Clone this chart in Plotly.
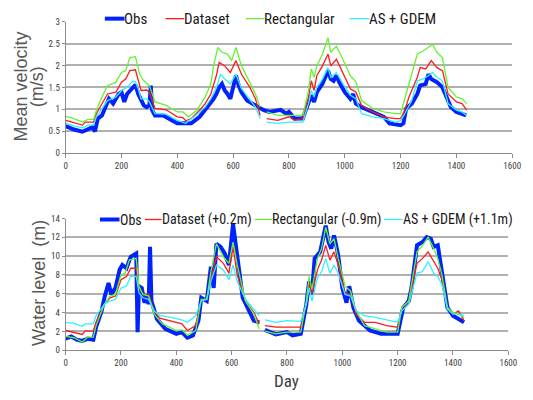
import plotly.graph_objects as go

# ---------------- Mean velocity (m/s) ----------------
vel_obs_day = [0,30,60,80,95,105,115,130,150,155,170,190,200,210,220,240,250,260,270,280,
               290,300,305,310,320,350,380,400,420,450,480,500,520,530,540,550,560,570,580,590,
               600,610,620,630,650,670,690,710,730,750,770,790,800,820,850,860,870,880,890,900,
               920,935,940,950,960,970,980,1000,1020,1030,1040,1060,1100,1140,1160,1200,1210,1220,1240,1260,
               1270,1290,1300,1310,1330,1350,1360,1380,1400,1420,1435]
vel_obs = [0.62,0.54,0.49,0.54,0.59,0.50,0.79,0.86,1.17,1.24,1.13,1.35,1.39,1.17,1.35,1.47,1.56,1.35,1.20,1.09,
           1.05,1.09,1.54,0.98,0.86,0.86,0.75,0.68,0.68,0.68,0.83,0.98,1.13,1.24,1.35,1.50,1.58,1.43,1.35,1.24,
           1.50,1.77,1.54,1.39,1.20,1.13,1.05,0.98,0.94,0.96,0.99,0.90,0.94,0.79,0.79,0.98,1.13,1.32,1.17,1.39,
           1.58,1.77,1.88,1.69,1.65,1.77,1.62,1.39,1.24,1.35,1.13,1.05,0.94,0.83,0.68,0.64,0.68,1.02,1.13,1.35,
           1.54,1.58,1.80,1.69,1.62,1.50,1.35,1.05,0.94,0.90,0.86]

vel_dataset_day = [0,30,60,70,100,110,130,150,180,200,215,230,250,260,270,290,300,320,360,400,
                   420,430,450,480,500,520,540,550,570,590,610,630,660,680,697,708,
                   720,760,800,820,850,870,880,890,900,920,940,950,970,990,1020,1040,1060,1100,1140,1180,
                   1200,1215,1230,1260,1270,1290,1310,1330,1350,1370,1400,1420,1437]
vel_dataset = [0.75,0.69,0.64,0.71,0.71,0.90,1.13,1.35,1.39,1.62,1.69,1.88,1.90,1.69,1.43,1.44,1.39,1.02,0.99,0.83,
               0.81,0.74,0.79,0.98,1.13,1.35,1.77,2.07,1.99,1.84,2.11,1.80,1.50,1.24,0.86,None,
               0.79,0.75,0.83,0.75,0.79,1.28,1.65,1.43,1.77,1.99,2.26,1.99,2.14,1.88,1.47,1.39,1.09,0.94,0.83,0.79,
               0.79,0.98,1.28,1.73,1.95,1.92,2.11,1.95,1.88,1.35,1.17,1.13,0.98]

vel_rect_day = [0,30,60,80,100,110,130,150,180,200,215,230,250,265,280,300,320,360,400,420,
                440,470,500,520,530,545,560,580,595,610,630,660,680,697,708,
                720,760,800,850,870,880,890,900,920,940,950,970,990,1020,1040,1060,1100,1140,1180,1200,
                1215,1230,1260,1280,1300,1315,1330,1350,1370,1400,1420,1437]
vel_rect = [0.84,0.79,0.71,0.77,0.77,0.98,1.28,1.54,1.62,1.84,1.88,2.18,2.20,1.80,1.65,1.54,1.17,1.09,0.94,0.94,
            0.83,0.98,1.28,1.58,1.99,2.41,2.30,2.26,2.11,2.41,1.99,1.62,1.35,1.05,None,
            0.94,0.86,0.86,0.86,1.43,1.92,1.73,1.99,2.26,2.63,2.30,2.44,2.18,1.77,1.62,1.20,1.02,0.94,0.90,0.90,
            1.24,1.58,2.26,2.33,2.41,2.48,2.30,2.18,1.50,1.28,1.24,1.13]

vel_asg_day = [0,30,60,80,100,110,150,180,200,220,240,250,260,270,290,300,320,360,400,430,
               460,500,520,540,555,570,590,610,630,660,680,697,708,
               720,760,800,850,870,880,890,900,920,940,950,970,990,1020,1040,1060,1100,1140,1180,1200,
               1215,1240,1260,1280,1300,1315,1330,1350,1370,1400,1420,1437]
vel_asg = [0.68,0.62,0.58,0.64,0.64,0.83,1.20,1.28,1.43,1.50,1.64,1.63,1.47,1.24,1.24,1.17,0.90,0.89,0.75,0.68,
           0.83,1.05,1.24,1.50,1.80,1.69,1.58,1.80,1.47,1.20,1.05,0.79,None,
           0.71,0.68,0.71,0.71,1.13,1.43,1.28,1.50,1.69,1.95,1.73,1.84,1.62,1.32,1.24,0.90,0.83,0.79,0.71,0.74,
           0.90,1.20,1.65,1.69,1.77,1.84,1.73,1.65,1.13,0.98,0.94,0.86]

# ---------------- Water level (m) ----------------
wl_obs_day = [0,20,40,60,80,100,110,130,140,155,165,180,195,205,220,235,255,260,265,275,
              285,295,300,305,310,330,360,400,420,440,460,480,490,510,525,535,545,560,575,590,
              605,620,640,660,680,700,710,
              720,760,800,820,850,870,880,890,900,920,930,940,950,960,970,985,1000,1015,1025,1040,
              1060,1100,1140,1180,1200,1220,1240,1250,1270,1290,1305,1320,1330,1345,1360,1380,1400,1420,1440]
wl_obs = [1.22,1.46,1.11,0.98,1.22,1.11,2.44,4.18,5.57,7.14,5.92,6.62,8.54,9.06,8.71,9.93,10.28,1.90,6.80,6.62,
          5.05,5.75,4.88,10.98,5.23,3.31,2.26,1.74,1.92,1.32,1.57,3.14,5.57,5.23,8.88,6.62,11.32,10.98,10.28,9.06,
          13.41,9.93,5.57,4.36,3.14,2.96,None,
          2.16,1.67,1.92,1.57,1.74,4.88,7.32,5.92,9.76,10.45,11.85,13.24,11.50,10.80,12.20,10.10,6.62,5.05,6.80,4.53,
          3.14,2.09,1.74,1.67,1.74,4.53,5.23,6.62,11.15,11.50,12.02,11.85,10.98,11.15,8.01,4.53,3.66,3.31,2.96]

wl_dataset_day = [0,30,60,70,100,110,140,160,180,200,220,235,255,265,280,300,320,340,380,420,
                  440,470,490,510,525,545,570,590,605,620,650,680,700,710,
                  720,760,800,850,870,880,890,910,925,940,955,970,985,1010,1030,1050,1080,1120,1160,1200,
                  1215,1240,1270,1290,1310,1330,1345,1360,1380,1400,1420,1440]
wl_dataset = [2.09,1.92,1.67,2.02,2.02,2.96,4.88,5.57,5.75,7.49,7.84,8.71,8.71,6.62,5.92,5.92,4.18,3.41,3.14,2.79,
              2.09,2.61,5.23,5.57,7.67,9.93,9.23,8.19,10.98,8.01,5.23,4.01,2.79,None,
              2.61,2.44,2.44,2.44,4.88,7.14,5.92,8.54,9.58,11.15,9.58,10.45,9.06,6.10,5.92,3.83,2.96,2.96,2.61,2.44,
              4.53,5.05,9.23,9.76,10.45,9.41,8.71,7.49,4.53,3.83,4.18,3.14]

wl_rect_day = [0,30,60,80,100,110,140,160,180,200,215,230,255,265,280,300,320,350,400,420,
               440,470,490,510,525,545,570,590,605,620,650,680,700,710,
               720,760,800,850,870,880,890,910,925,940,955,970,985,1010,1030,1050,1080,1120,1160,1200,
               1215,1240,1270,1290,1310,1330,1345,1360,1380,1400,1420,1440]
wl_rect = [1.46,1.32,0.87,1.39,1.39,2.61,4.88,5.75,5.92,8.01,8.19,9.58,9.76,6.80,5.92,5.75,3.83,2.79,2.09,2.16,
           1.57,2.09,5.40,5.40,8.36,11.32,9.93,9.23,11.50,9.06,5.23,3.83,2.26,None,
           2.02,1.74,1.92,1.92,5.23,7.84,6.45,9.76,10.80,13.07,11.32,11.85,9.76,6.80,6.27,4.18,2.61,2.26,1.92,1.92,
           4.53,5.23,10.45,11.15,12.02,10.80,9.76,8.01,4.53,4.01,3.83,3.48]

wl_asg_day = [0,30,60,70,100,110,140,160,180,200,220,235,255,265,280,300,320,340,380,420,
              440,470,490,510,525,545,570,590,605,620,650,680,700,710,
              720,760,800,850,870,880,890,910,925,940,955,970,985,1010,1030,1050,1080,1120,1160,1200,
              1215,1240,1270,1290,1310,1330,1345,1360,1380,1400,1420,1440]
wl_asg = [2.96,2.86,2.54,2.79,2.79,3.66,4.88,5.23,5.40,6.62,6.80,7.84,7.84,6.10,5.57,5.40,4.18,3.66,3.48,3.21,
          2.96,3.66,5.23,5.40,7.32,9.06,8.54,7.49,9.06,7.32,5.40,4.36,3.66,None,
          3.21,2.96,3.14,3.07,4.88,6.62,5.23,7.67,8.36,9.76,8.19,9.06,8.19,5.92,5.75,4.18,3.66,3.48,3.21,2.96,
          4.18,4.88,8.19,8.36,9.41,8.19,7.84,6.97,4.36,3.83,3.83,3.66]

top_names = ["Obs", "Dataset", "Rectangular", "AS + GDEM"]
bottom_names = ["Obs", "Dataset (+0.2m)", "Rectangular (-0.9m)", "AS + GDEM (+1.1m)"]
x_ticks = [0, 200, 400, 600, 800, 1000, 1200, 1400, 1600]
vel_ticks = [0, 0.5, 1, 1.5, 2, 2.5, 3]
vel_tick_text = ["0", "0.5", "1", "1.5", "2", "2.5", "3"]
wl_ticks = [0, 2, 4, 6, 8, 10, 12, 14]

colors = ["#0022FF", "#FF1A1A", "#66F233", "#33F0FF"]
widths = [4, 1.3, 1.3, 1.3]

W, H = 533, 400
def px(x):
    return x / W
def py(y):
    return 1 - y / H

fig = go.Figure()

top_series = [(vel_obs_day, vel_obs), (vel_dataset_day, vel_dataset), (vel_rect_day, vel_rect), (vel_asg_day, vel_asg)]
bot_series = [(wl_obs_day, wl_obs), (wl_dataset_day, wl_dataset), (wl_rect_day, wl_rect), (wl_asg_day, wl_asg)]

for i, (d, v) in enumerate(top_series):
    fig.add_trace(go.Scatter(x=d, y=v, name=top_names[i], mode="lines",
                             line=dict(color=colors[i], width=widths[i]),
                             xaxis="x", yaxis="y", showlegend=False, connectgaps=False))
for i, (d, v) in enumerate(bot_series):
    fig.add_trace(go.Scatter(x=d, y=v, name=bottom_names[i], mode="lines",
                             line=dict(color=colors[i], width=widths[i]),
                             xaxis="x2", yaxis="y2", showlegend=False, connectgaps=False))

NARROW = "Roboto Condensed, Liberation Sans Narrow, Arial Narrow, DejaVu Sans Condensed, Liberation Sans, sans-serif"
tickfont = dict(family=NARROW, size=9, color="#404040")
grid = "#b0b0b0"

common_x = dict(range=[0, 1600], tickvals=x_ticks, showgrid=False, showline=True, linecolor="#8c8c8c",
                linewidth=1, ticks="outside", ticklen=4, tickcolor="#8c8c8c", tickfont=tickfont, zeroline=False)
common_y = dict(showgrid=True, gridcolor=grid, gridwidth=1.5, showline=True, linecolor="#8c8c8c", linewidth=1,
                ticks="outside", ticklen=3, tickcolor="#8c8c8c", tickfont=tickfont, zeroline=False)

fig.update_layout(
    width=W, height=H,
    margin=dict(l=0, r=0, t=0, b=0),
    paper_bgcolor="white", plot_bgcolor="white",
    xaxis=dict(domain=[px(65), px(521)], anchor="y", **common_x),
    yaxis=dict(domain=[py(152), py(17)], anchor="x", range=[0, 3], tickvals=vel_ticks,
               ticktext=vel_tick_text, **common_y),
    xaxis2=dict(domain=[px(65), px(517)], anchor="y2", **common_x),
    yaxis2=dict(domain=[py(354), py(219)], anchor="x2", range=[0, 14], tickvals=wl_ticks, **common_y),
    showlegend=False,
    hovermode=False,
)

title_font = dict(family="Liberation Sans, Arial, sans-serif", size=18, color="#595959")
fig.add_annotation(x=px(19), y=py(84), xref="paper", yref="paper", text="Mean velocity", textangle=-90,
                   showarrow=False, font=title_font, xanchor="center", yanchor="middle")
fig.add_annotation(x=px(36), y=py(84), xref="paper", yref="paper", text="(m/s)", textangle=-90,
                   showarrow=False, font=title_font, xanchor="center", yanchor="middle")
fig.add_annotation(x=px(38), y=py(285), xref="paper", yref="paper", text="Water level  (m)", textangle=-90,
                   showarrow=False, font=title_font, xanchor="center", yanchor="middle")
fig.add_annotation(x=px(291), y=py(386), xref="paper", yref="paper", text="Day",
                   showarrow=False, xanchor="center", yanchor="middle",
                   font=dict(family=NARROW, size=17, color="#404040"))

# legends (key line + label)
legfont_top = dict(family=NARROW, size=15, color="#1a1a1a")
legfont_bot = dict(family=NARROW, size=14, color="#1a1a1a")
top_keys = [(105, 125), (167, 186), (249, 268), (355, 375)]
bot_keys = [(100, 120), (146, 163), (258, 276), (390, 409)]
for i, (x0, x1) in enumerate(top_keys):
    fig.add_shape(type="line", xref="paper", yref="paper", x0=px(x0), x1=px(x1), y0=py(14), y1=py(14),
                  line=dict(color=colors[i], width=widths[i]))
    fig.add_annotation(x=px(x1), y=py(14), xref="paper", yref="paper", text=top_names[i], showarrow=False,
                       xanchor="left", yanchor="middle", font=legfont_top, xshift=-2)
for i, (x0, x1) in enumerate(bot_keys):
    fig.add_shape(type="line", xref="paper", yref="paper", x0=px(x0), x1=px(x1), y0=py(220), y1=py(220),
                  line=dict(color=colors[i], width=widths[i]))
    fig.add_annotation(x=px(x1), y=py(220), xref="paper", yref="paper", text=bottom_names[i], showarrow=False,
                       xanchor="left", yanchor="middle", font=legfont_bot, xshift=-2)

fig.write_html("out.html", config={"displayModeBar": False},
               post_script="document.body.style.margin='0px';document.body.style.overflow='hidden';")
